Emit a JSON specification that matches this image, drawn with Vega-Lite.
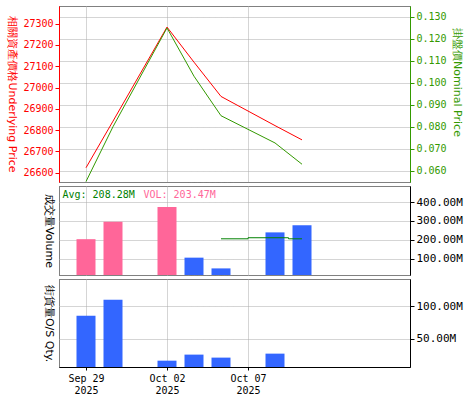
{
  "$schema": "https://vega.github.io/schema/vega-lite/v6.json",
  "padding": {"left": 6, "top": 5, "right": 5, "bottom": 5},
  "background": "white",
  "spacing": 2,
  "datasets": {
    "price": [
      {"d": "Sep 29", "under": 26623, "nominal": 0.055},
      {"d": "Sep 30", "under": 26842, "nominal": 0.080},
      {"d": "Oct 02", "under": 27284, "nominal": 0.125},
      {"d": "Oct 03", "under": 27119, "nominal": 0.103},
      {"d": "Oct 06", "under": 26958, "nominal": 0.085},
      {"d": "Oct 08", "under": 26821, "nominal": 0.0726},
      {"d": "Oct 09", "under": 26754, "nominal": 0.0629}
    ],
    "vol": [
      {"d": "Sep 29", "v": 203000000, "dir": "up"},
      {"d": "Sep 30", "v": 295000000, "dir": "up"},
      {"d": "Oct 02", "v": 373000000, "dir": "up"},
      {"d": "Oct 03", "v": 105000000, "dir": "down"},
      {"d": "Oct 06", "v": 48000000, "dir": "down"},
      {"d": "Oct 08", "v": 239000000, "dir": "down"},
      {"d": "Oct 09", "v": 277000000, "dir": "down"}
    ],
    "avg": [
      {"d": "Oct 06", "v": 205000000},
      {"d": "Oct 08", "v": 210600000},
      {"d": "Oct 09", "v": 205000000}
    ],
    "os": [
      {"d": "Sep 29", "q": 85700000},
      {"d": "Sep 30", "q": 110300000},
      {"d": "Oct 02", "q": 16700000},
      {"d": "Oct 03", "q": 26000000},
      {"d": "Oct 06", "q": 21400000},
      {"d": "Oct 08", "q": 27500000}
    ]
  },
  "config": {
    "font": "DejaVu Sans Mono",
    "view": {"stroke": "#000000", "strokeDash": [1, 1]},
    "axis": {
      "gridColor": "#aaaaaa",
      "gridDash": [1, 1],
      "gridWidth": 1,
      "tickSize": 4,
      "labelPadding": 2,
      "labelFont": "DejaVu Sans Mono",
      "labelFontSize": 10,
      "titleFont": "DejaVu Sans",
      "titleFontSize": 11,
      "titleFontWeight": "normal",
      "titlePadding": 5,
      "labelColor": "#000000",
      "domainColor": "#000000",
      "tickColor": "#000000",
      "titleColor": "#000000"
    }
  },
  "vconcat": [
    {
      "width": 351,
      "height": 176,
      "data": {"name": "price"},
      "encoding": {
        "x": {
          "field": "d",
          "type": "ordinal",
          "scale": {"type": "point", "padding": 0, "domain": ["Sep 26", "Sep 29", "Sep 30", "Oct 01", "Oct 02", "Oct 03", "Oct 06", "Oct 07", "Oct 08", "Oct 09", "Oct 10", "Oct 13", "Oct 14", "Oct 15"]},
          "axis": {"values": ["Sep 29", "Oct 02", "Oct 07"], "labels": false, "ticks": false, "domain": false, "title": null, "grid": true}
        }
      },
      "layer": [
        {
          "mark": {"type": "line", "color": "#ff0000", "strokeWidth": 1, "clip": true},
          "encoding": {
            "y": {
              "field": "under",
              "type": "quantitative",
              "scale": {"domain": [26556, 27383], "nice": false, "zero": false},
              "axis": {
                "orient": "left",
                "values": [26600, 26700, 26800, 26900, 27000, 27100, 27200, 27300],
                "format": "d",
                "grid": false,
                "labelColor": "#ff0000",
                "domainColor": "#ff0000",
                "tickColor": "#ff0000",
                "titleColor": "#ff0000",
                "title": "相關資產價格Underlying Price",
                "titleAngle": 90,
                "titleBaseline": "top"
              }
            }
          }
        },
        {
          "mark": {"type": "line", "color": "#339900", "strokeWidth": 1, "clip": true},
          "encoding": {
            "y": {
              "field": "nominal",
              "type": "quantitative",
              "scale": {"domain": [0.0548, 0.135], "nice": false, "zero": false},
              "axis": {
                "orient": "right",
                "values": [0.06, 0.07, 0.08, 0.09, 0.1, 0.11, 0.12, 0.13],
                "format": ".3f",
                "grid": true,
                "labelColor": "#339900",
                "domainColor": "#339900",
                "tickColor": "#339900",
                "titleColor": "#339900",
                "title": "掛盤價Nominal Price",
                "titleAngle": 90,
                "titleY": 76
              }
            }
          }
        }
      ],
      "resolve": {"scale": {"y": "independent"}}
    },
    {
      "width": 351,
      "height": 89,
      "encoding": {
        "x": {
          "field": "d",
          "type": "ordinal",
          "scale": {"type": "point", "padding": 0, "domain": ["Sep 26", "Sep 29", "Sep 30", "Oct 01", "Oct 02", "Oct 03", "Oct 06", "Oct 07", "Oct 08", "Oct 09", "Oct 10", "Oct 13", "Oct 14", "Oct 15"]},
          "axis": {"values": ["Sep 29", "Oct 02", "Oct 07"], "labels": false, "ticks": false, "domain": false, "title": null, "grid": true}
        }
      },
      "layer": [
        {
          "data": {"name": "vol"},
          "mark": {"type": "bar", "width": 19, "clip": true},
          "encoding": {
            "y": {
              "field": "v",
              "type": "quantitative",
              "scale": {"domain": [13000000, 485000000], "nice": false, "zero": false},
              "axis": {
                "orient": "right",
                "values": [100000000, 200000000, 300000000, 400000000],
                "labelExpr": "format(datum.value/1000000,'.2f')+'M'",
                "labelFontSize": 11,
                "grid": true,
                "title": null
              }
            },
            "color": {"field": "dir", "type": "nominal", "scale": {"domain": ["up", "down"], "range": ["#ff6699", "#3366ff"]}, "legend": null}
          }
        },
        {
          "data": {"name": "avg"},
          "mark": {"type": "line", "interpolate": "step", "color": "#008000", "strokeWidth": 1},
          "encoding": {
            "y": {"field": "v", "type": "quantitative", "axis": null}
          }
        },
        {
          "data": {"values": [{"label": "Avg: 208.28M"}]},
          "mark": {"type": "text", "align": "left", "baseline": "top", "dx": 3.5, "dy": 4, "color": "#008000", "fontSize": 10, "font": "DejaVu Sans Mono"},
          "encoding": {
            "x": {"datum": "Sep 26"},
            "y": {
              "datum": 485000000,
              "type": "quantitative",
              "axis": {"orient": "left", "labels": false, "ticks": false, "domain": false, "grid": false, "title": "成交量Volume", "titleAngle": 90, "titleBaseline": "top"}
            },
            "text": {"field": "label"}
          }
        },
        {
          "data": {"values": [{"label": "VOL: 203.47M"}]},
          "mark": {"type": "text", "align": "left", "baseline": "top", "dx": 3.5, "dy": 4, "color": "#ff6699", "fontSize": 10, "font": "DejaVu Sans Mono"},
          "encoding": {
            "x": {"datum": "Oct 01"},
            "y": {"datum": 485000000, "type": "quantitative", "axis": null},
            "text": {"field": "label"}
          }
        }
      ],
      "resolve": {"axis": {"y": "independent"}}
    },
    {
      "width": 351,
      "height": 88,
      "data": {"name": "os"},
      "encoding": {
        "x": {
          "field": "d",
          "type": "ordinal",
          "scale": {"type": "point", "padding": 0, "domain": ["Sep 26", "Sep 29", "Sep 30", "Oct 01", "Oct 02", "Oct 03", "Oct 06", "Oct 07", "Oct 08", "Oct 09", "Oct 10", "Oct 13", "Oct 14", "Oct 15"]},
          "axis": {
            "values": ["Sep 29", "Oct 02", "Oct 07"],
            "labelExpr": "[datum.value, '2025']",
            "labelLineHeight": 12,
            "labelPadding": 3,
            "tickSize": 3,
            "labelAngle": 0,
            "title": null,
            "grid": true
          }
        }
      },
      "layer": [
        {
          "mark": {"type": "bar", "width": 19, "color": "#3366ff", "clip": true},
          "encoding": {
            "y": {
              "field": "q",
              "type": "quantitative",
              "scale": {"domain": [7000000, 142000000], "nice": false, "zero": false},
              "axis": {
                "orient": "right",
                "values": [50000000, 100000000],
                "labelExpr": "format(datum.value/1000000,'.2f')+'M'",
                "labelFontSize": 11,
                "grid": true,
                "title": null
              }
            }
          }
        },
        {
          "mark": {"type": "bar", "width": 19, "opacity": 0, "clip": true},
          "encoding": {
            "y": {
              "field": "q",
              "type": "quantitative",
              "axis": {"orient": "left", "labels": false, "ticks": false, "domain": false, "grid": false, "title": "街貨量O/S Qty.", "titleAngle": 90, "titleBaseline": "top"}
            }
          }
        }
      ],
      "resolve": {"axis": {"y": "independent"}}
    }
  ]
}
